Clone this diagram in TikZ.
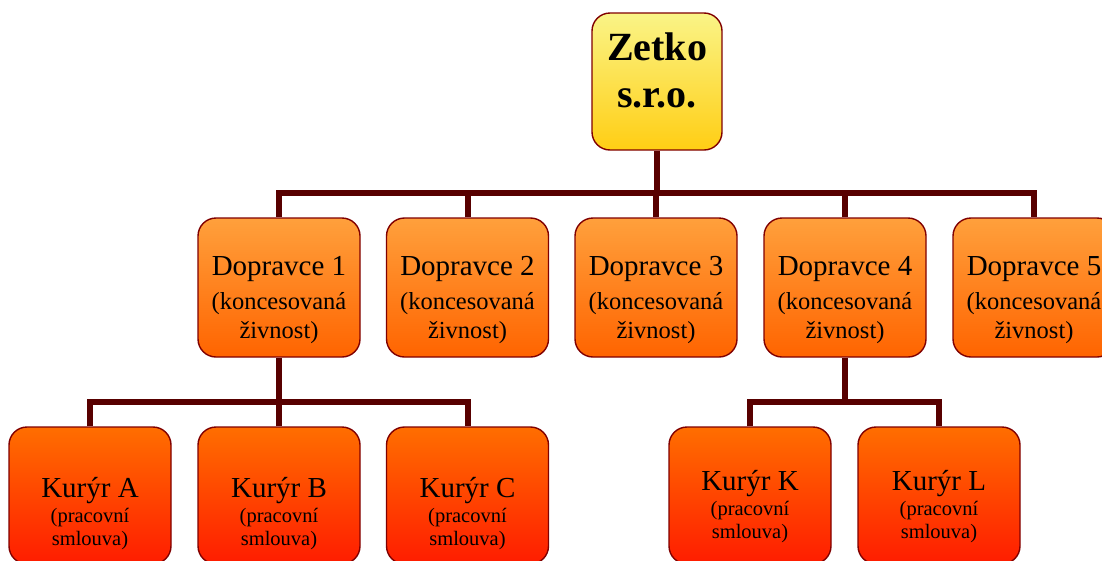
\documentclass[tikz,border=0pt]{standalone}
\usepackage{fontspec}
\setmainfont{Liberation Serif}
\usetikzlibrary{backgrounds}
\definecolor{edge}{RGB}{128,0,0}
\definecolor{conncol}{RGB}{88,0,0}
\definecolor{ytop}{RGB}{250,244,135}
\definecolor{ybot}{RGB}{255,206,20}
\definecolor{otop}{RGB}{255,160,60}
\definecolor{obot}{RGB}{255,100,0}
\definecolor{rtop}{RGB}{255,110,0}
\definecolor{rbot}{RGB}{255,28,0}
\tikzset{
  box/.style={draw=edge, line width=1.4pt, rounded corners=18pt, inner sep=0pt},
  topbox/.style={box, top color=ytop, bottom color=ybot, minimum width=130pt, minimum height=137pt},
  dbox/.style={box, top color=otop, bottom color=obot, minimum width=162pt, minimum height=139pt},
  kbox/.style={box, top color=rtop, bottom color=rbot, minimum width=162pt, minimum height=137pt},
  conn/.style={draw=conncol, line width=6pt},
  tbig/.style={anchor=base, inner sep=0pt, font=\fontsize{40}{47}\selectfont\bfseries},
  tname/.style={anchor=base, inner sep=0pt, font=\fontsize{29}{34}\selectfont},
  tsub/.style={anchor=base, inner sep=0pt, font=\fontsize{24.5}{28}\selectfont},
  tsmall/.style={anchor=base, inner sep=0pt, font=\fontsize{20.5}{24}\selectfont},
}
\begin{document}
\begin{tikzpicture}[x=1pt, y=-1pt]
\useasboundingbox (0,0) rectangle (1102,560);
\clip (0,0) rectangle (1102,560);
% boxes
\node[topbox] (top) at (657,81.5) {};
\foreach \n/\x in {1/279,2/467.5,3/656,4/845,5/1034}{
  \node[dbox] (d\n) at (\x,287.5) {};
}
\foreach \n/\x in {a/90,b/279,c/467.5,k/750,l/939}{
  \node[kbox] (k\n) at (\x,495.5) {};
}
% texts
\node[tbig] (t0a) at (657,60) {Zetko};
\node[tbig] (t0b) at (657,107) {s.r.o.};
\foreach \n/\x in {1/279,2/467.5,3/656,4/845,5/1034}{
  \node[tname] (td\n a) at (\x,275) {Dopravce \n};
  \node[tsub] (td\n b) at (\x,309) {(koncesovaná};
  \node[tsub] (td\n c) at (\x,338) {živnost)};
}
\foreach \n/\x/\b in {A/90/0,B/279/0,C/467.5/0,K/750/-7,L/939/-7}{
  \node[tname] (tk\n a) at (\x,497+\b) {Kurýr \n};
  \node[tsmall] (tk\n b) at (\x,522+\b) {(pracovní};
  \node[tsmall] (tk\n c) at (\x,545+\b) {smlouva)};
}
% connectors
\coordinate (j1) at (657,193);
\coordinate (j2) at (279,402);
\coordinate (j3) at (845,402);
\begin{scope}[on background layer]
  \draw[conn] (top.south) -- (top.south |- j1);
  \draw[conn] (d1.north) -- (d1.north |- j1) -- (d5.north |- j1) -- (d5.north);
  \foreach \n in {2,3,4}{ \draw[conn] (d\n.north) -- (d\n.north |- j1); }
  \draw[conn] (d1.south) -- (j2);
  \draw[conn] (ka.north) -- (ka.north |- j2) -- (kc.north |- j2) -- (kc.north);
  \draw[conn] (kb.north) -- (kb.north |- j2);
  \draw[conn] (d4.south) -- (j3);
  \draw[conn] (kk.north) -- (kk.north |- j3) -- (kl.north |- j3) -- (kl.north);
\end{scope}
\end{tikzpicture}
\end{document}
